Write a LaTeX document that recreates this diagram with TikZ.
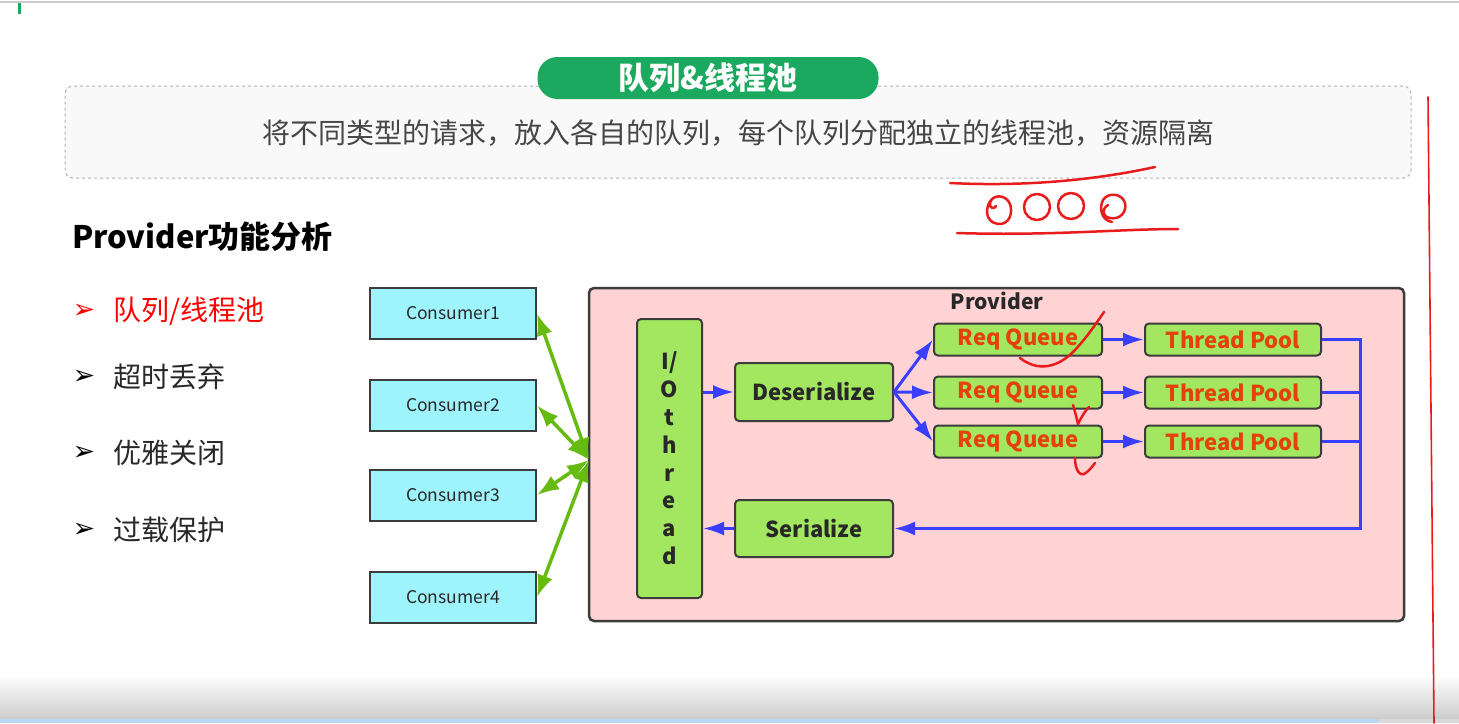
\documentclass[tikz,border=0pt]{standalone}
\usepackage{fontspec}
\setmainfont{Noto Sans CJK SC}
\newfontfamily\dejavu{DejaVu Sans}
\usetikzlibrary{arrows.meta}
\definecolor{titlegreen}{RGB}{27,168,95}
\definecolor{cyanfill}{RGB}{158,244,252}
\definecolor{lgreen}{RGB}{163,230,95}
\definecolor{pinkfill}{RGB}{255,211,211}
\definecolor{arrowblue}{RGB}{58,62,255}
\definecolor{arrowgreen}{RGB}{102,187,17}
\definecolor{redtext}{RGB}{230,64,12}
\definecolor{bordergray}{RGB}{60,60,60}
\definecolor{textgray}{RGB}{40,40,40}
\definecolor{inkred}{RGB}{232,28,28}
\definecolor{subgray}{RGB}{70,70,70}
\definecolor{stripblue}{RGB}{185,213,242}
\tikzset{
 consbox/.style={draw=bordergray, line width=2pt, fill=cyanfill, minimum width=166pt, minimum height=51pt, inner sep=0pt, font=\fontsize{17.5}{20}\selectfont, text=textgray},
 gbox/.style={draw=bordergray, line width=2pt, fill=lgreen, rounded corners=4pt, inner sep=0pt, text=textgray, font=\bfseries\fontsize{22}{26}\selectfont},
 rqbox/.style={gbox, minimum width=168pt, minimum height=32pt, text=redtext},
 tpbox/.style={gbox, minimum width=176pt, minimum height=32pt, text=redtext},
 barrow/.style={draw=arrowblue, line width=3pt, -{Latex[length=21pt,width=14pt]}},
 bline/.style={draw=arrowblue, line width=3pt},
 garrow/.style={draw=arrowgreen, line width=3.5pt, {Latex[length=22pt,width=16pt]}-{Latex[length=22pt,width=16pt]}},
 redink/.style={draw=inkred, line width=2.5pt, line cap=round, line join=round},
 bullet/.style={anchor=center, font=\dejavu\fontsize{27}{28}\selectfont},
 item/.style={anchor=west, inner sep=0pt, font=\fontsize{28}{30}\selectfont, text=textgray},
}
\begin{document}
\begin{tikzpicture}[x=1pt,y=-1pt]
\useasboundingbox (0,0) rectangle (1459,723);
\fill[white] (0,0) rectangle (1459,723);
% top chrome
\draw[gray!40, line width=1.5pt] (0,2) -- (1459,2);
\fill[titlegreen] (18,3) rectangle (21,14);
% bottom chrome
\shade[top color=white, bottom color=gray!40] (0,675) rectangle (1459,719);
\fill[stripblue] (0,719) rectangle (1378,723);
\fill[gray!30] (1378,719) rectangle (1459,723);

% subtitle panel
\node[draw=gray!60, dashed, line width=1pt, fill=gray!5, rounded corners=8pt, minimum width=1346pt, minimum height=92pt, inner sep=0pt] (panel) at (738,132) {};
\node[font=\fontsize{28}{30}\selectfont, text=subgray, inner sep=0pt] (subtitle) at (738,133) {将不同类型的请求，放入各自的队列，每个队列分配独立的线程池，资源隔离};
\node[fill=titlegreen, rounded corners=20pt, minimum width=341pt, minimum height=42pt, inner sep=0pt, text=white, font=\bfseries\fontsize{31}{33}\selectfont] (title) at (708,78) {队列\&线程池};

% left column
\node[anchor=west, inner sep=0pt, font=\bfseries\fontsize{31}{33}\selectfont, text=black] (heading) at (72,237) {Provider功能分析};
\node[bullet, text=red] (b1) at (84,311) {➢};
\node[item, text=red] (i1) at (113,311) {队列/线程池};
\node[bullet, text=black] (b2) at (84,377) {➢};
\node[item] (i2) at (113,377) {超时丢弃};
\node[bullet, text=black] (b3) at (84,453) {➢};
\node[item] (i3) at (113,453) {优雅关闭};
\node[bullet, text=black] (b4) at (84,530) {➢};
\node[item] (i4) at (113,530) {过载保护};

% consumers
\node[consbox] (c1) at (453,313.5) {Consumer1};
\node[consbox] (c2) at (453,405.5) {Consumer2};
\node[consbox] (c3) at (453,495) {Consumer3};
\node[consbox] (c4) at (453,597) {Consumer4};

% provider
\node[draw=bordergray, line width=2.5pt, fill=pinkfill, rounded corners=5pt, minimum width=815pt, minimum height=333pt, inner sep=0pt] (prov) at (996.5,454.5) {};
\node[font=\bfseries\fontsize{21}{24}\selectfont, text=textgray, inner sep=0pt] (provlabel) at (997,301) {Provider};
\coordinate (hub) at (589,460);

\node[gbox, minimum width=65pt, minimum height=279pt, align=center, font=\bfseries\fontsize{22}{27.8}\selectfont] (io) at (669.5,458.5) {I/\\O\\t\\h\\r\\e\\a\\d};
\node[gbox, minimum width=158pt, minimum height=58pt] (deser) at (814,392) {Deserialize};
\node[gbox, minimum width=158pt, minimum height=57pt] (ser) at (814,528.5) {Serialize};

\node[rqbox] (rq1) at (1018,339.5) {\raisebox{-1.5pt}{Req Queue}};
\node[rqbox] (rq2) at (1018,392.5) {\raisebox{-1.5pt}{Req Queue}};
\node[rqbox] (rq3) at (1018,441.5) {\raisebox{-1.5pt}{Req Queue}};
\node[tpbox] (tp1) at (1233,339.5) {Thread Pool};
\node[tpbox] (tp2) at (1233,392.5) {Thread Pool};
\node[tpbox] (tp3) at (1233,441.5) {Thread Pool};
\coordinate (busx) at (1360,0);

% green connectors
\draw[garrow] (hub) -- (c1.east);
\draw[garrow] (hub) -- (c2.east);
\draw[garrow] (hub) -- (c3.east);
\draw[garrow] (hub) -- (c4.east);

% blue connectors
\draw[barrow] (io.east |- deser.west) -- (deser.west);
\draw[barrow] (deser.east) -- (rq1.west);
\draw[barrow] (deser.east) -- (rq2.west);
\draw[barrow] (deser.east) -- (rq3.west);
\draw[barrow] (rq1.east) -- (tp1.west);
\draw[barrow] (rq2.east) -- (tp2.west);
\draw[barrow] (rq3.east) -- (tp3.west);
\draw[bline] (tp2.east) -- (tp2.east -| busx);
\draw[bline] (tp3.east) -- (tp3.east -| busx);
\draw[barrow] (tp1.east) -- (tp1.east -| busx) |- (ser.east);
\draw[barrow] (ser.west) -- (io.east |- ser.west);

% handwritten annotations
\draw[redink] (950,183) .. controls (1030,187) and (1100,179) .. (1155,167);
\draw[redink] (992,199) .. controls (985,206) and (984,222) .. (998,224) .. controls (1010,225) and (1013,212) .. (1010,204) .. controls (1006,194) and (992,194) .. (990,203) .. controls (989,208) and (994,210) .. (996,206);
\draw[redink] (1037,207) circle[radius=13];
\draw[redink] (1071,206) circle[radius=13];
\draw[redink] (1108,205) .. controls (1100,210) and (1104,218) .. (1110,218) .. controls (1120,220) and (1127,212) .. (1125,203) .. controls (1122,193) and (1108,192) .. (1103,200) .. controls (1099,208) and (1101,220) .. (1112,222);
\draw[redink] (957,233) .. controls (1050,236) and (1120,229) .. (1178,229);
\draw[redink] (1020,358) .. controls (1038,372) and (1058,368) .. (1075,350) .. controls (1088,336) and (1097,322) .. (1104,312);
\draw[redink] (1073,405) .. controls (1076,415) and (1077,420) .. (1078,424) .. controls (1082,416) and (1085,411) .. (1089,407);
\draw[redink] (1075,458) .. controls (1075,470) and (1080,476) .. (1084,474) .. controls (1088,472) and (1092,467) .. (1095,463);
\draw[redink, line width=1.6pt] (1428,97) -- (1434,723);
\end{tikzpicture}
\end{document}
